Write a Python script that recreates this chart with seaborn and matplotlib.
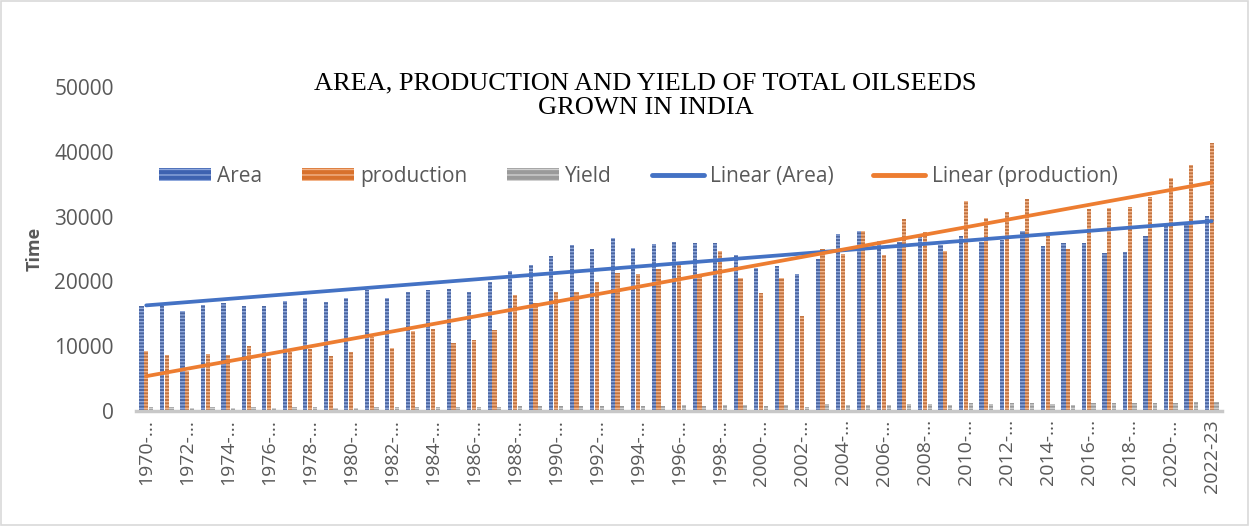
import matplotlib
matplotlib.use('Agg')
import matplotlib.pyplot as plt
from matplotlib.patches import Patch, Rectangle
from matplotlib.lines import Line2D
import numpy as np
import pandas as pd
import seaborn as sns

# Oilseeds in India, 1970-71 to 2022-23 (area '000 ha, production '000 t, yield kg/ha)
years = [f"{y}-{str(y + 1)[-2:]}" for y in range(1970, 2023)]

area = [16150, 16150, 15430, 16360, 16660, 16200, 16200, 16970, 17480, 16760,
        17380, 18610, 17480, 18430, 18710, 18760, 18350, 19940, 21680, 22560,
        23890, 25690, 25070, 26710, 25120, 25840, 26070, 25890, 26000, 24100,
        22100, 22400, 21220, 23480, 27330, 27740, 26300, 26040, 27330, 25630,
        27070, 26100, 26400, 27840, 25430, 25890, 26000, 24350, 24610, 26970,
        28610, 28760, 30040]

production = [9280, 8660, 6200, 8870, 8610, 10000, 8200, 9120, 9640, 8510,
              9120, 11430, 9690, 12400, 12710, 10560, 10920, 12460, 17840, 16710,
              18350, 18350, 19890, 21330, 21120, 21890, 22460, 20660, 24660, 20560,
              18250, 20510, 14710, 25020, 24250, 27840, 24100, 29680, 27590, 24740,
              32420, 29710, 30760, 32660, 27070, 25020, 31170, 31380, 31430, 33070,
              35890, 37990, 41420]

yield_ = [579, 551, 451, 555, 526, 641, 508, 552, 567, 512,
          532, 633, 560, 679, 682, 570, 605, 628, 826, 743,
          771, 718, 796, 799, 842, 851, 926, 817, 944, 853,
          810, 913, 691, 1064, 885, 1004, 916, 1115, 1006, 958,
          1193, 1133, 1168, 1168, 1075, 968, 1195, 1284, 1271, 1224,
          1247, 1318, 1377]

# Excel truncates most of the rotated labels and shows every other one
tick_labels = [y[:5] + "\u2026" for y in years[:-1:2]] + [years[-1]]

series = ['Area', 'production', 'Yield']
bar_colors = ['#3E62B0', '#D8712C', '#9A9A9A']
stripe_colors = ['#8FA8DC', '#F2B48A', '#D0D0D0']
line_colors = ['#4472C4', '#ED7D31']

df = pd.DataFrame({'year': years * 3,
                   'value': area + production + yield_,
                   'series': np.repeat(series, len(years))})

sns.set_style('white')
plt.rcParams['font.family'] = ['Open Sans', 'DejaVu Sans']
plt.rcParams['hatch.linewidth'] = 1.0

fig = plt.figure(figsize=(12.51, 5.26), dpi=100)
ax = fig.add_axes([0.1087, 0.2186, 0.8681, 0.616])

sns.barplot(data=df, x='year', y='value', hue='series', hue_order=series,
            palette=bar_colors, width=0.7, gap=0.12, legend=False, ax=ax)

# striped pattern fill like the Excel original
for i, cont in enumerate(ax.containers):
    for bar in cont:
        bar.set_hatch('-----')
        bar.set_edgecolor(stripe_colors[i])
        bar.set_linewidth(0)

# linear trend lines for area and production
x = np.arange(len(years))
sns.regplot(x=x, y=np.array(area), scatter=False, ci=None, truncate=True,
            color=line_colors[0], line_kws={'linewidth': 2.7}, ax=ax)
sns.regplot(x=x, y=np.array(production), scatter=False, ci=None, truncate=True,
            color=line_colors[1], line_kws={'linewidth': 2.7}, ax=ax)

ax.set_xlim(-0.5, len(years) - 0.5)
ax.set_ylim(0, 50000)
ax.set_yticks(np.arange(0, 50001, 10000))
ax.set_xticks(np.arange(0, len(years), 2))
ax.set_xticklabels(tick_labels, rotation=90)
ax.tick_params(axis='both', length=0, labelcolor='#595959')
ax.tick_params(axis='y', pad=16, labelsize=15)
ax.tick_params(axis='x', pad=6, labelsize=14)
ax.set_xlabel('')
ax.set_ylabel('Time', fontsize=13, fontweight='bold', color='#595959', labelpad=8)

for side in ['top', 'right', 'left']:
    ax.spines[side].set_visible(False)
ax.spines['bottom'].set_color('#C8C8C8')
ax.spines['bottom'].set_linewidth(2.5)

fig.text(0.516, 0.818, 'AREA, PRODUCTION AND YIELD OF TOTAL OILSEEDS\nGROWN IN INDIA',
         ha='center', va='center', fontsize=19, family='Liberation Serif',
         linespacing=1.2, color='black')

handles = [Patch(facecolor=bar_colors[i], edgecolor=stripe_colors[i], hatch='---',
                 linewidth=0) for i in range(3)]
handles += [Line2D([0], [0], color=c, linewidth=3.5) for c in line_colors]
labels = series + ['Linear (Area)', 'Linear (production)']
fig.legend(handles, labels, loc='center', bbox_to_anchor=(0.51, 0.665), ncol=5,
           frameon=False, fontsize=15, labelcolor='#595959', handlelength=2.5,
           handleheight=0.55, handletextpad=0.3, columnspacing=1.9)

fig.patches.append(Rectangle((0.001, 0.002), 0.997, 0.996, transform=fig.transFigure,
                             fill=False, edgecolor='#D9D9D9', linewidth=1.2))

fig.savefig('out.png', dpi=100)
